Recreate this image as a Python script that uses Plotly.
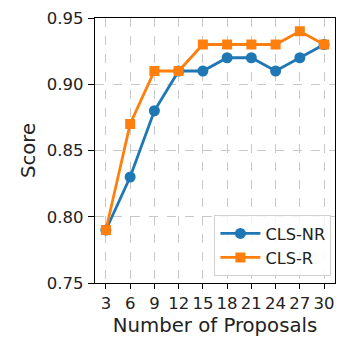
import plotly.graph_objects as go

proposals = [3, 6, 9, 12, 15, 18, 21, 24, 27, 30]
cls_nr = [0.79, 0.83, 0.88, 0.91, 0.91, 0.92, 0.92, 0.91, 0.92, 0.93]
cls_r = [0.79, 0.87, 0.91, 0.91, 0.93, 0.93, 0.93, 0.93, 0.94, 0.93]
y_ticks = [0.75, 0.80, 0.85, 0.90, 0.95]

fig = go.Figure()
fig.add_trace(go.Scatter(x=proposals, y=cls_nr, mode="lines+markers", name="CLS-NR",
                         line=dict(color="#1f77b4", width=2.8),
                         marker=dict(symbol="circle", size=11, color="#1f77b4")))
fig.add_trace(go.Scatter(x=proposals, y=cls_r, mode="lines+markers", name="CLS-R",
                         line=dict(color="#ff7f0e", width=2.8),
                         marker=dict(symbol="square", size=10, color="#ff7f0e")))

font = "DejaVu Sans"
fig.update_layout(
    width=343, height=329,
    margin=dict(l=87, r=16, t=10, b=54, autoexpand=False),
    plot_bgcolor="white", paper_bgcolor="white",
    font=dict(family=font, size=16, color="#222"),
    showlegend=True,
    legend=dict(x=0.985, y=0.025, xanchor="right", yanchor="bottom",
                bordercolor="#d0d0d0", borderwidth=1, bgcolor="rgba(255,255,255,0.85)",
                font=dict(size=16.2, family=font), tracegroupgap=2, itemwidth=40),
)
fig.update_xaxes(range=[1.65, 31.35], tickvals=proposals, ticktext=[str(p) for p in proposals],
                 showline=True, linecolor="black", linewidth=1.2, mirror=True,
                 ticks="outside", ticklen=5, tickcolor="black",
                 showgrid=True, gridcolor="#c8c8c8", griddash="dash", gridwidth=1,
                 zeroline=False, automargin=False,
                 title=dict(text="Number of Proposals", font=dict(size=19.7), standoff=6),
                 tickfont=dict(size=16.5))
fig.update_yaxes(range=[0.75, 0.95], tickvals=y_ticks, ticktext=[f"{v:.2f}" for v in y_ticks],
                 showline=True, linecolor="black", linewidth=1.2, mirror=True,
                 ticks="outside", ticklen=6, tickcolor="black",
                 showgrid=True, gridcolor="#c8c8c8", griddash="dash", gridwidth=1,
                 zeroline=False, automargin=False, ticklabelstandoff=1,
                 title=dict(text="Score", font=dict(size=19.7), standoff=5),
                 tickfont=dict(size=16.5))

fig.write_html("out.html")
